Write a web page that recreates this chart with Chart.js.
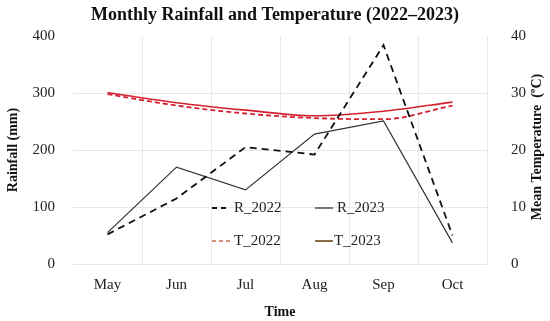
<!DOCTYPE html>
<html>
<head>
<meta charset="utf-8">
<script src="https://cdn.jsdelivr.net/npm/chart.js@4"></script>
<style>
html,body{margin:0;padding:0;background:#fff;}
#wrap{width:550px;height:321px;position:relative;}
</style>
</head>
<body>
<div id="wrap"><canvas id="c" width="550" height="321"></canvas></div>
<script>
const months = ["May", "Jun", "Jul", "Aug", "Sep", "Oct"];
const R_2022 = [52, 115, 205, 192, 384, 50];
const R_2023 = [55, 170, 130, 228, 251, 37];
const T_2022 = [29.8, 27.8, 26.4, 25.6, 25.4, 27.8];
const T_2023 = [30.1, 28.3, 27.0, 26.0, 26.8, 28.4];
const rainTicks = [0, 100, 200, 300, 400];
const tempTicks = [0, 10, 20, 30, 40];

const FONT = "'Liberation Serif', 'Times New Roman', serif";
const RED = '#d42030';

const legendItems = [
  {label: 'R_2022', color: '#111', dash: [5, 4], width: 2, col: 0, row: 0},
  {label: 'R_2023', color: '#333', dash: [], width: 1.3, col: 1, row: 0},
  {label: 'T_2022', color: '#d89080', dash: [4, 3], width: 2, col: 0, row: 1},
  {label: 'T_2023', color: '#8c6a48', dash: [], width: 2, col: 1, row: 1}
];

const overlay = {
  id: 'overlay',
  afterDraw(chart) {
    const ctx = chart.ctx;
    ctx.save();
    ctx.font = '15px ' + FONT;
    ctx.fillStyle = '#222';
    ctx.textBaseline = 'middle';
    const colX = [212, 315];
    const rowY = [208, 241];
    legendItems.forEach(it => {
      const x = colX[it.col], y = rowY[it.row];
      ctx.beginPath();
      ctx.setLineDash(it.dash);
      ctx.strokeStyle = it.color;
      ctx.lineWidth = it.width;
      ctx.moveTo(x, y);
      ctx.lineTo(x + 18, y);
      ctx.stroke();
      ctx.setLineDash([]);
      ctx.fillText(it.label, x + (it.col === 1 && it.row === 1 ? 19 : 22), y);
    });
    ctx.translate(537, 147);
    ctx.rotate(-Math.PI / 2);
    ctx.font = 'bold 14px ' + FONT;
    ctx.fillStyle = '#111';
    ctx.textAlign = 'center';
    ctx.textBaseline = 'middle';
    ctx.fillText('Mean Temperature  (ºC)', 0, 0);
    ctx.restore();
  }
};

new Chart(document.getElementById('c'), {
  type: 'line',
  data: {
    labels: months,
    datasets: [
      {label: 'R_2022', data: R_2022, yAxisID: 'y', borderColor: '#111', borderWidth: 1.8, borderDash: [7, 5], pointRadius: 0, tension: 0, fill: false},
      {label: 'R_2023', data: R_2023, yAxisID: 'y', borderColor: '#333', borderWidth: 1.2, pointRadius: 0, tension: 0, fill: false},
      {label: 'T_2022', data: T_2022, yAxisID: 'y1', borderColor: RED, borderWidth: 1.8, borderDash: [5, 3], pointRadius: 0, tension: 0.4, cubicInterpolationMode: 'monotone', fill: false},
      {label: 'T_2023', data: T_2023, yAxisID: 'y1', borderColor: RED, borderWidth: 1.6, pointRadius: 0, tension: 0.4, cubicInterpolationMode: 'monotone', fill: false}
    ]
  },
  options: {
    responsive: false,
    animation: false,
    layout: {padding: 0},
    plugins: {
      legend: {display: false},
      tooltip: {enabled: false},
      title: {
        display: true,
        text: 'Monthly Rainfall and Temperature (2022–2023)',
        color: '#111',
        font: {family: FONT, size: 18, weight: 'bold', lineHeight: 1.2},
        padding: {top: 5, bottom: 9.4}
      }
    },
    scales: {
      x: {
        type: 'category',
        offset: true,
        grid: {
          offset: true,
          drawTicks: false,
          color: ctx => (ctx.index === 0 || ctx.index === months.length) ? 'rgba(0,0,0,0)' : '#e8e8e8',
          lineWidth: 1
        },
        border: {display: false},
        ticks: {color: '#222', font: {family: FONT, size: 15}, padding: 12, maxRotation: 0},
        title: {display: true, text: 'Time', color: '#111', font: {family: FONT, size: 14, weight: 'bold'}, padding: {top: 2, bottom: 0}},
        afterFit: s => { s.width; s.height = 57; }
      },
      y: {
        position: 'left',
        min: 0, max: 400,
        afterBuildTicks: s => { s.ticks = rainTicks.map(v => ({value: v})); },
        grid: {
          drawTicks: false,
          color: ctx => (ctx.tick && ctx.tick.value === 400) ? 'rgba(0,0,0,0)' : '#e6e6e6'
        },
        border: {display: false},
        ticks: {color: '#222', font: {family: FONT, size: 15}, padding: 18},
        title: {display: true, text: 'Rainfall (mm)', color: '#111', font: {family: FONT, size: 14, weight: 'bold'}, padding: {top: 5, bottom: 4}},
        afterFit: s => { s.width = 73; }
      },
      y1: {
        position: 'right',
        min: 0, max: 40,
        afterBuildTicks: s => { s.ticks = tempTicks.map(v => ({value: v})); },
        grid: {display: false, drawOnChartArea: false},
        border: {display: false},
        ticks: {color: '#222', font: {family: FONT, size: 15}, padding: 16},
        afterFit: s => { s.width = 63; }
      }
    }
  },
  plugins: [overlay]
});
</script>
</body>
</html>
